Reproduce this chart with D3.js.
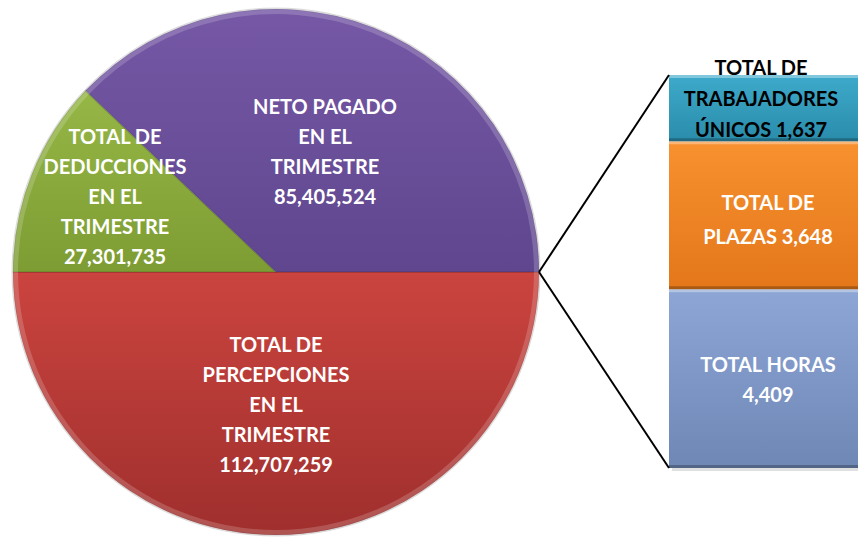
<!DOCTYPE html>
<html>
<head>
<meta charset="utf-8">
<script src="https://cdn.jsdelivr.net/npm/d3@7"></script>
<style>
  body { margin: 0; background: #fff; }
  text { font-family: Lato, "Liberation Sans", sans-serif; font-weight: bold; }
</style>
</head>
<body>
<script>
var width = 858, height = 539;

// pie data
var pieNames = ["percepciones", "deducciones", "neto"];
var pieValues = [112707259, 27301735, 85405524];
var pieLabels = [
  ["TOTAL DE", "PERCEPCIONES", "EN EL", "TRIMESTRE", "112,707,259"],
  ["TOTAL DE", "DEDUCCIONES", "EN EL", "TRIMESTRE", "27,301,735"],
  ["NETO PAGADO", "EN EL", "TRIMESTRE", "85,405,524"]
];
// bar data (bottom to top)
var barNames = ["horas", "plazas", "trabajadores"];
var barValues = [4409, 3648, 1637];
var barLabels = [
  ["TOTAL HORAS", "4,409"],
  ["TOTAL DE", "PLAZAS 3,648"],
  ["TOTAL DE", "TRABAJADORES", "ÚNICOS 1,637"]
];

var pieColors = {percepciones: ["#cb443f", "#9f2f2d"], deducciones: ["#96b746", "#7d9c33"], neto: ["#7658a6", "#5f468e"]};
var barColors = {horas: ["#8da6d6", "#6f87b5"], plazas: ["#f8912f", "#e3771a"], trabajadores: ["#3eaacb", "#2a8cab"]};

var svg = d3.select("body").append("svg").attr("width", width).attr("height", height);
var defs = svg.append("defs");

function grad(id, c) {
  var g = defs.append("linearGradient").attr("id", id).attr("x1", 0).attr("y1", 0).attr("x2", 0).attr("y2", 1);
  g.append("stop").attr("offset", "0%").attr("stop-color", c[0]);
  g.append("stop").attr("offset", "100%").attr("stop-color", c[1]);
}
pieNames.forEach(function(n){ grad("g-" + n, pieColors[n]); });
barNames.forEach(function(n){ grad("b-" + n, barColors[n]); });

var cx = 276, cy = 272, radius = 263;

var pie = d3.pie().value(function(d){ return d; }).sort(null)
  .startAngle(Math.PI / 2).endAngle(Math.PI / 2 + 2 * Math.PI);
var arcs = pie(pieValues);
var arc = d3.arc().innerRadius(0).outerRadius(radius);
var rim = d3.arc().innerRadius(radius - 5).outerRadius(radius);

var gp = svg.append("g").attr("transform", "translate(" + cx + "," + cy + ")");
gp.selectAll("path.slice").data(arcs).enter().append("path")
  .attr("class", "slice")
  .attr("d", arc)
  .attr("fill", function(d, i){ return "url(#g-" + pieNames[i] + ")"; })
  .attr("stroke", "#000").attr("stroke-opacity", 0.12).attr("stroke-width", 1.5);
gp.selectAll("path.rim").data(arcs).enter().append("path")
  .attr("class", "rim")
  .attr("d", rim)
  .attr("fill", "#fff").attr("opacity", 0.18);
gp.append("circle").attr("r", radius + 1).attr("fill", "none").attr("stroke", "#bbb").attr("stroke-width", 1).attr("opacity", 0.5);

// pie labels
var pieLabelPos = [[0, 80], [-161, -128], [49, -158]];
var lineH = 30;
arcs.forEach(function(d, i) {
  var t = gp.append("text")
    .attr("text-anchor", "middle")
    .attr("fill", "#fff")
    .style("font-size", "20px")
    .attr("transform", "translate(" + pieLabelPos[i][0] + "," + pieLabelPos[i][1] + ")");
  pieLabels[i].forEach(function(s, j) {
    t.append("tspan").attr("x", 0).attr("y", j * lineH).text(s);
  });
});

// bar
var barX = 669, barW = 200;
var total = d3.sum(barValues);
var y = d3.scaleLinear().domain([0, total]).range([468, 75]);
var cum = 0;
var segs = barValues.map(function(v, i) { var s = {name: barNames[i], y0: cum, y1: cum + v, i: i}; cum += v; return s; });

svg.append("rect").attr("x", barX + 3).attr("y", y(total) + 3).attr("width", barW).attr("height", y(0) - y(total))
  .attr("fill", "#000").attr("opacity", 0.12);

var gb = svg.append("g");
gb.selectAll("rect.seg").data(segs).enter().append("rect")
  .attr("class", "seg")
  .attr("x", barX).attr("width", barW)
  .attr("y", function(d){ return y(d.y1); })
  .attr("height", function(d){ return y(d.y0) - y(d.y1); })
  .attr("fill", function(d){ return "url(#b-" + d.name + ")"; });
gb.selectAll("line.top").data(segs).enter().append("line")
  .attr("x1", barX).attr("x2", barX + barW)
  .attr("y1", function(d){ return y(d.y1) + 1.5; }).attr("y2", function(d){ return y(d.y1) + 1.5; })
  .attr("stroke", "#fff").attr("stroke-opacity", 0.35).attr("stroke-width", 3);
gb.selectAll("line.bot").data(segs).enter().append("line")
  .attr("x1", barX).attr("x2", barX + barW)
  .attr("y1", function(d){ return y(d.y0) - 1.5; }).attr("y2", function(d){ return y(d.y0) - 1.5; })
  .attr("stroke", "#000").attr("stroke-opacity", 0.25).attr("stroke-width", 3);

var barLabelTop = [365, 203, 68];
var barLabelColor = ["#fff", "#fff", "#000"];
var barLabelLH = [30, 34, 31];
segs.forEach(function(d) {
  var t = svg.append("text").attr("text-anchor", "middle").attr("fill", barLabelColor[d.i])
    .style("font-size", "20px")
    .attr("transform", "translate(" + (d.i === 2 ? 761 : 768) + "," + (barLabelTop[d.i] + 7) + ")");
  barLabels[d.i].forEach(function(s, j) {
    t.append("tspan").attr("x", 0).attr("y", j * barLabelLH[d.i]).text(s);
  });
});

// connector lines
var px = cx + radius;
svg.append("line").attr("x1", px).attr("y1", cy).attr("x2", barX).attr("y2", y(total)).attr("stroke", "#000").attr("stroke-width", 2);
svg.append("line").attr("x1", px).attr("y1", cy).attr("x2", barX).attr("y2", y(0)).attr("stroke", "#000").attr("stroke-width", 2);
</script>
</body>
</html>
